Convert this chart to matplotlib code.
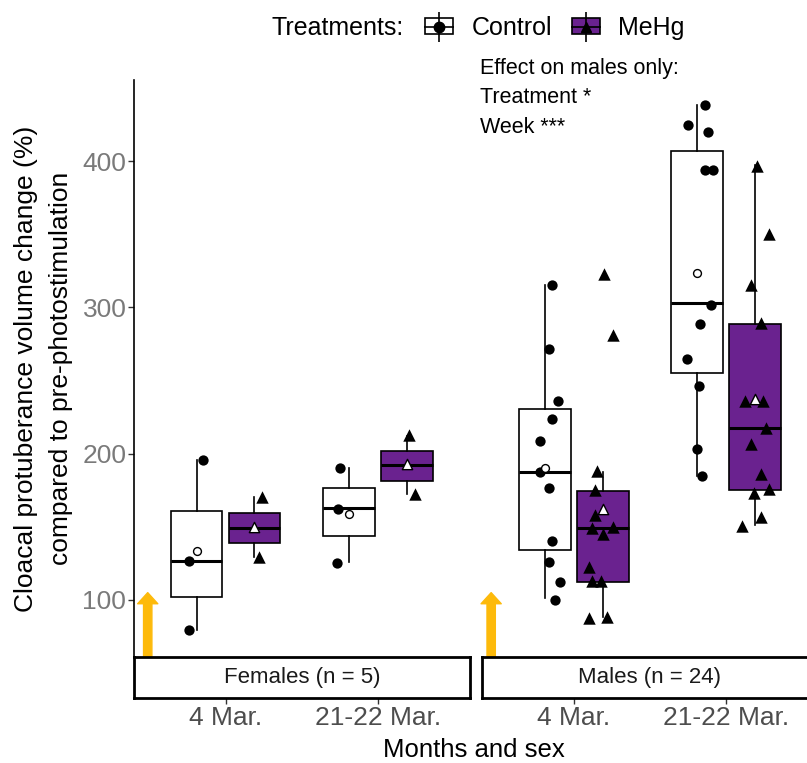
import matplotlib
matplotlib.use("Agg")
import numpy as np
import matplotlib.pyplot as plt
from matplotlib.lines import Line2D
from matplotlib.patches import Rectangle
from matplotlib.legend_handler import HandlerTuple

plt.rcParams['font.family'] = ['Liberation Sans', 'DejaVu Sans']

# groups: sex x week x treatment
sexes = ['Females (n = 5)', 'Males (n = 24)']
weeks = ['4 Mar.', '21-22 Mar.']
treatments = ['Control', 'MeHg']

# box statistics, order F-4C, F-4M, F-21C, F-21M, M-4C, M-4M, M-21C, M-21M
box_lo = [79.5, 129.4, 125.7, 172.2, 101.2, 88.6, 184.9, 151.2]
box_q1 = [102.3, 139.1, 143.7, 181.4, 134.1, 112.1, 255.4, 175.1]
box_med = [126.6, 149.4, 162.6, 192.2, 187.6, 148.9, 303.2, 217.2]
box_q3 = [160.7, 159.6, 176.2, 201.9, 230.2, 174.4, 407.2, 288.9]
box_hi = [195.6, 170.5, 189.9, 212.4, 315.0, 187.6, 438.6, 397.0]
box_mean = [133.7, 149.8, 158.7, 192.6, 189.9, 161.9, 323.4, 237.2]

# individual birds: group index, value, jitter
pt_group = [0, 0, 0,
            1, 1,
            2, 2, 2,
            3, 3,
            4, 4, 4, 4, 4, 4, 4, 4, 4, 4, 4,
            5, 5, 5, 5, 5, 5, 5, 5, 5, 5, 5, 5, 5,
            6, 6, 6, 6, 6, 6, 6, 6, 6, 6, 6,
            7, 7, 7, 7, 7, 7, 7, 7, 7, 7, 7, 7, 7]
pt_value = [195.6, 126.6, 79.5,
            170.5, 129.2,
            190.3, 162.1, 125.0,
            212.6, 172.2,
            315.0, 271.8, 235.8, 223.5, 208.5, 187.2, 176.2, 140.3, 126.2, 112.1, 100.0,
            322.5, 280.9, 188.3, 175.1, 158.0, 148.9, 145.1, 150.1, 122.8, 113.2, 113.2, 87.5, 88.6,
            438.6, 424.7, 419.7, 394.0, 394.0, 301.8, 288.9, 265.0, 246.3, 203.1, 184.9,
            396.9, 349.8, 315.4, 289.3, 235.8, 235.8, 217.6, 206.3, 186.0, 175.8, 172.8, 156.5, 150.5]
pt_jitter = [0.04, -0.05, -0.05,
             0.05, 0.03,
             -0.06, -0.07, -0.08,
             0.01, 0.05,
             0.05, 0.03, 0.09, 0.05, -0.03, -0.03, 0.03, 0.05, 0.03, 0.10, 0.07,
             0.01, 0.07, -0.04, -0.05, -0.05, -0.07, 0.0, 0.07, -0.09, -0.07, -0.01, -0.09, 0.03,
             0.05, -0.06, 0.07, 0.05, 0.10, 0.09, 0.02, -0.07, 0.01, 0.0, 0.03,
             0.01, 0.09, -0.03, 0.04, -0.07, 0.05, 0.07, -0.03, 0.04, 0.09, -0.01, 0.04, -0.09]

arrow_x = [0.49, 0.46]
arrow_tip = 105

fill = {'Control': 'white', 'MeHg': '#6A228F'}
marker = {'Control': 'o', 'MeHg': '^'}
dodge = {'Control': -0.19, 'MeHg': 0.19}
gold = '#FDBA0B'

W, H = 807, 763


def rect(x0, y0, x1, y1):
    return [x0 / W, 1 - y1 / H, (x1 - x0) / W, (y1 - y0) / H]


fig = plt.figure(figsize=(W / 100, H / 100), dpi=100)
panels = [fig.add_axes(rect(134, 80, 469.5, 657)), fig.add_axes(rect(482, 80, 818, 657))]
strips = [fig.add_axes(rect(134, 657, 469.5, 698), sharex=panels[0]),
          fig.add_axes(rect(482, 657, 818, 698), sharex=panels[1])]

pt_group = np.array(pt_group)
pt_value = np.array(pt_value)
pt_jitter = np.array(pt_jitter)

for s, (ax, sax) in enumerate(zip(panels, strips)):
    for w in range(2):
        for t, trt in enumerate(treatments):
            g = s * 4 + w * 2 + t
            pos = w + 1 + dodge[trt]
            st = [dict(whislo=box_lo[g], q1=box_q1[g], med=box_med[g],
                       q3=box_q3[g], whishi=box_hi[g])]
            bp = ax.bxp(st, positions=[pos], widths=0.34, showcaps=False,
                        showfliers=False, patch_artist=True,
                        boxprops=dict(facecolor=fill[trt], edgecolor='black', linewidth=1.2),
                        medianprops=dict(color='black', linewidth=2.2),
                        whiskerprops=dict(color='black', linewidth=1.2))
            for b in bp['boxes']:
                b.set_zorder(2)
            sel = pt_group == g
            ax.scatter(pos + pt_jitter[sel], pt_value[sel], marker=marker[trt],
                       s=55 if trt == 'Control' else 80, color='black',
                       linewidths=0, zorder=3)
            ax.scatter([pos], [box_mean[g]], marker=marker[trt],
                       s=32 if trt == 'Control' else 55, facecolor='white',
                       edgecolor='black', linewidths=1.0, zorder=4)

    ax.annotate('', xy=(arrow_x[s], arrow_tip), xytext=(arrow_x[s], 61),
                arrowprops=dict(arrowstyle='simple,head_length=0.8,head_width=1.45,tail_width=0.6',
                                mutation_scale=10, color=gold, shrinkA=0, shrinkB=0),
                zorder=1)

    ax.set_xlim(0.4, 2.6)
    ax.set_ylim(61, 455.4)
    for sp in ['top', 'right', 'bottom']:
        ax.spines[sp].set_visible(False)
    ax.tick_params(axis='x', bottom=False, labelbottom=False)
    if s == 0:
        ax.spines['left'].set_linewidth(1.2)
        ax.set_yticks([100, 200, 300, 400])
        ax.tick_params(axis='y', length=4, width=1, color='#333333',
                       labelsize=19, labelcolor='#7A7A7A', pad=1.5)
    else:
        ax.spines['left'].set_visible(False)
        ax.set_yticks([])

    # facet strip sits under the panel, week ticks under the strip
    sax.set_ylim(0, 1)
    sax.set_yticks([])
    for sp in sax.spines.values():
        sp.set_linewidth(2)
        sp.set_color('black')
    sax.set_xticks([1, 2])
    sax.set_xticklabels(weeks)
    sax.tick_params(axis='x', length=4, width=1, color='#333333',
                    labelsize=19, labelcolor='#4D4D4D', pad=2)
    sax.text(0.5, 0.5, sexes[s], transform=sax.transAxes, ha='center',
             va='center', fontsize=16, color='#1A1A1A')

fig.text(474 / W, 1 - 750 / H, 'Months and sex', ha='center', va='center', fontsize=18.5)
fig.text(26 / W, 1 - 368.5 / H, 'Cloacal protuberance volume change (%)',
         rotation=90, ha='center', va='center', fontsize=19)
fig.text(61 / W, 1 - 368.5 / H, 'compared to pre-photostimulation',
         rotation=90, ha='center', va='center', fontsize=19)

fig.text(480 / W, 1 - 58 / H, 'Effect on males only:\nTreatment *\nWeek ***',
         ha='left', va='top', fontsize=15.5, linespacing=1.53)

# legend along the top
fig.text(272 / W, 1 - 28 / H, 'Treatments:', ha='left', va='center', fontsize=18)
handles = []
for trt in treatments:
    handles.append((Rectangle((0, 0), 1, 1, facecolor=fill[trt], edgecolor='black', linewidth=1.2),
                    Line2D([], [], marker='+', markersize=21.5, markeredgewidth=1.2,
                           color='black', linestyle='none'),
                    Line2D([], [], marker=marker[trt], markersize=7.5, color='black',
                           linestyle='none')))
fig.legend(handles, treatments, handler_map={tuple: HandlerTuple(ndivide=1, pad=0)},
           loc='center left', bbox_to_anchor=(425 / W, 1 - 28 / H), ncol=2,
           frameon=False, fontsize=18, handlelength=1.12, handleheight=0.6,
           handletextpad=0.76, columnspacing=0.76, borderpad=0, borderaxespad=0)

fig.savefig('out.png', dpi=100)
